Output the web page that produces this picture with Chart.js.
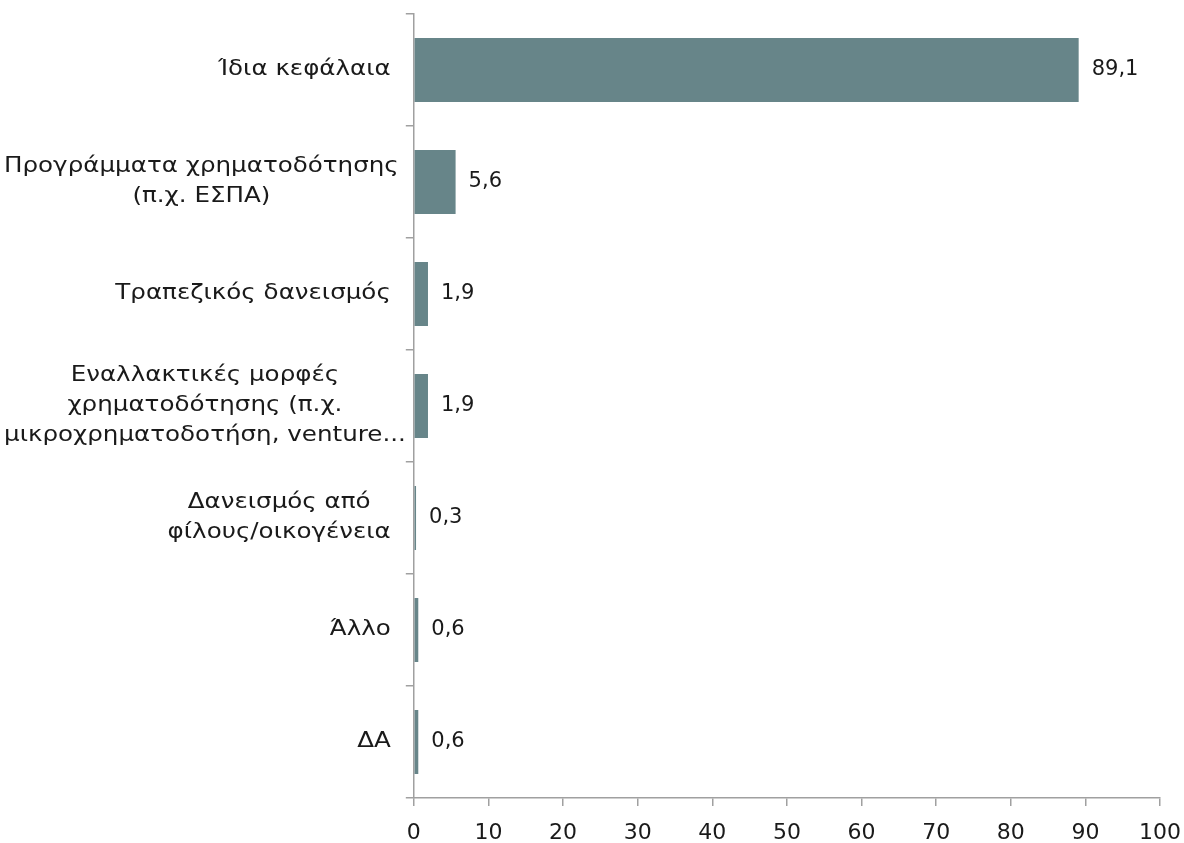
<!DOCTYPE html>
<html>
<head>
<meta charset="utf-8">
<script src="https://cdn.jsdelivr.net/npm/chart.js@4"></script>
<style>
  html, body { margin: 0; padding: 0; background: #fff; }
  #wrap { width: 1184px; height: 843px; }
</style>
</head>
<body>
<div id="wrap"><canvas id="fundingChart"></canvas></div>
<script>
// Categories (multi-line as in the original) and values
const categories = [
  ["Ίδια κεφάλαια"],
  ["Προγράμματα χρηματοδότησης", "(π.χ. ΕΣΠΑ)"],
  ["Τραπεζικός δανεισμός"],
  ["Εναλλακτικές μορφές", "χρηματοδότησης (π.χ.", "μικροχρηματοδοτήση, venture..."],
  ["Δανεισμός από", "φίλους/οικογένεια"],
  ["Άλλο"],
  ["ΔΑ"]
];
const values = [89.1, 5.6, 1.9, 1.9, 0.3, 0.6, 0.6];
const xTicks = [0, 10, 20, 30, 40, 50, 60, 70, 80, 90, 100];

const FONT = "'DejaVu Sans', sans-serif";
const FONT_SIZE = 21;
const LABEL_FONT = "21px " + FONT;
const LABEL_STRETCH = 1.17; // the original face is wider than DejaVu
const LABEL_GAP = 23;

function blockWidth(ctx, lines) {
  ctx.font = LABEL_FONT;
  return Math.max.apply(null, lines.map((l) => ctx.measureText(l).width)) * LABEL_STRETCH;
}

// Draw y labels as centered blocks, right aligned next to the axis
const yLabelPlugin = {
  id: "yLabels",
  afterDraw(chart) {
    const scale = chart.scales.y;
    const ctx = chart.ctx;
    const lineH = 30;
    categories.forEach(function (lines, i) {
      const yc = scale.getPixelForTick(i);
      const w = blockWidth(ctx, lines);
      // wide blocks are pushed against the left edge, like the original
      const cx = Math.max(scale.left + w / 2, scale.right - LABEL_GAP - w / 2);
      const y0 = yc - ((lines.length - 1) * lineH) / 2;
      ctx.save();
      ctx.font = LABEL_FONT;
      ctx.fillStyle = "#1a1a1a";
      ctx.textAlign = "center";
      ctx.textBaseline = "middle";
      ctx.translate(cx, y0);
      ctx.scale(LABEL_STRETCH, 1);
      lines.forEach(function (l, k) {
        ctx.fillText(l, 0, k * lineH);
      });
      ctx.restore();
    });
  }
};

// Value labels outside the bar end
const valueLabelPlugin = {
  id: "valueLabels",
  afterDatasetsDraw(chart) {
    const ctx = chart.ctx;
    const meta = chart.getDatasetMeta(0);
    ctx.save();
    ctx.font = FONT_SIZE + "px " + FONT;
    ctx.fillStyle = "#1a1a1a";
    ctx.textAlign = "left";
    ctx.textBaseline = "middle";
    meta.data.forEach(function (bar, i) {
      const txt = values[i].toFixed(1).replace(".", ",");
      ctx.fillText(txt, bar.x + 13, bar.y);
    });
    ctx.restore();
  }
};

new Chart(document.getElementById("fundingChart").getContext("2d"), {
  type: "bar",
  data: {
    labels: categories,
    datasets: [
      {
        data: values,
        backgroundColor: "#678589",
        categoryPercentage: 1,
        barPercentage: 0.57
      }
    ]
  },
  options: {
    indexAxis: "y",
    responsive: true,
    maintainAspectRatio: false,
    animation: false,
    layout: { padding: { top: 14, right: 0, left: 4, bottom: 0 } },
    plugins: {
      legend: { display: false },
      tooltip: { enabled: false }
    },
    scales: {
      x: {
        min: 0,
        max: 100,
        afterBuildTicks(axis) {
          axis.ticks = xTicks.map((v) => ({ value: v }));
        },
        afterFit(axis) {
          axis.height = 45;
          axis.paddingRight = 24;
        },
        grid: {
          drawOnChartArea: false,
          drawTicks: true,
          tickLength: 8,
          color: "#a0a0a0",
          lineWidth: 1.5
        },
        border: { color: "#a0a0a0", width: 1.5 },
        ticks: {
          color: "#1a1a1a",
          padding: 14,
          font: { family: FONT, size: 22 }
        }
      },
      y: {
        afterFit(axis) {
          const maxW = Math.max.apply(null, categories.map((c) => blockWidth(axis.ctx, c)));
          axis.width = maxW + 8;
          axis.paddingTop = 0;
          axis.paddingBottom = 0;
        },
        grid: {
          offset: true,
          drawOnChartArea: false,
          drawTicks: true,
          tickLength: 8,
          color: "#a0a0a0",
          lineWidth: 1.5
        },
        border: { color: "#a0a0a0", width: 1.5 },
        ticks: {
          display: false
        }
      }
    }
  },
  plugins: [yLabelPlugin, valueLabelPlugin]
});
</script>
</body>
</html>
